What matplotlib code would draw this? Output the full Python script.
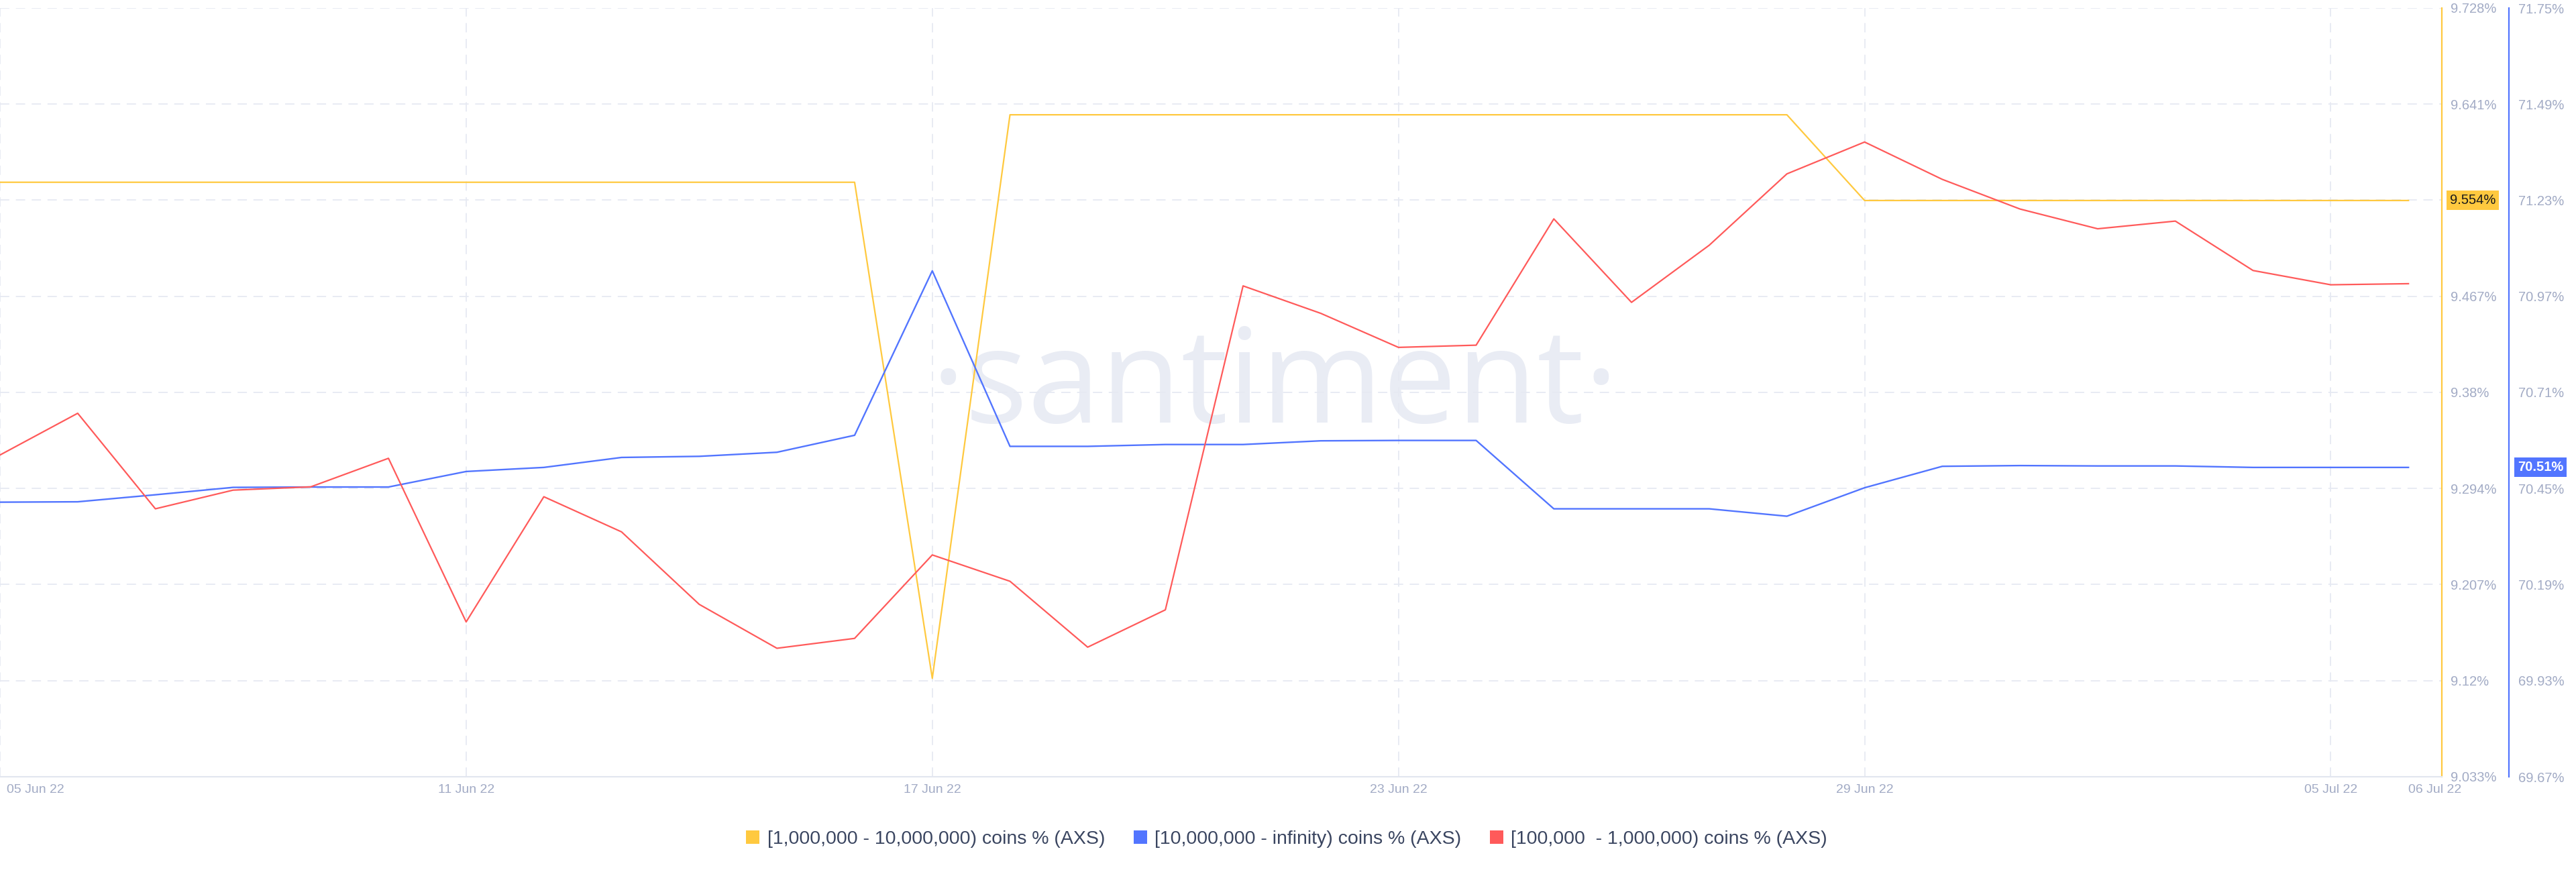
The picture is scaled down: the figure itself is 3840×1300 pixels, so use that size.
import matplotlib
matplotlib.use("Agg")
import matplotlib.pyplot as plt
import matplotlib.dates as mdates
from matplotlib.patches import Patch
from matplotlib.transforms import ScaledTranslation
import pandas as pd
import numpy as np

plt.rcParams['font.family'] = ['Liberation Sans', 'DejaVu Sans']
plt.rcParams['lines.scale_dashes'] = False

# ---------------- data ----------------
dates = pd.date_range('2022-06-05', '2022-07-06', freq='D')

yellow_vals = [9.5705] * 12 + [9.122] + [9.6315] * 11 + [9.554] * 8

blue_vals = [70.413, 70.414, 70.433, 70.453, 70.454, 70.454, 70.496, 70.507,
             70.534, 70.537, 70.548, 70.594, 71.039, 70.564, 70.564, 70.569,
             70.569, 70.579, 70.580, 70.580, 70.395, 70.395, 70.395, 70.375,
             70.452, 70.510, 70.512, 70.511, 70.511, 70.507, 70.507, 70.507]

red_vals = [17.393, 17.431, 17.344, 17.361, 17.364, 17.390, 17.241, 17.355,
            17.323, 17.257, 17.217, 17.226, 17.302, 17.278, 17.218, 17.252,
            17.547, 17.522, 17.491, 17.493, 17.608, 17.532, 17.584, 17.649,
            17.678, 17.644, 17.617, 17.599, 17.606, 17.561, 17.548, 17.549]

yellow_ticklabels = ['9.033%', '9.12%', '9.207%', '9.294%', '9.38%',
                     '9.467%', '9.554%', '9.641%', '9.728%']
blue_ticklabels = ['69.67%', '69.93%', '70.19%', '70.45%', '70.71%',
                   '70.97%', '71.23%', '71.49%', '71.75%']
date_ticks = ['2022-06-05', '2022-06-11', '2022-06-17', '2022-06-23',
              '2022-06-29', '2022-07-05']
series_labels = ['[1,000,000 - 10,000,000) coins % (AXS)',
                 '[10,000,000 - infinity) coins % (AXS)',
                 '[100,000  - 1,000,000) coins % (AXS)']
yellow_last = '9.554%'
blue_last = '70.51%'

# ---------------- style ----------------
C_YEL = '#FFC93F'
C_BLU = '#5275FF'
C_RED = '#FF5A5A'
C_GRID = '#E6E9F2'
C_TICK = '#A2ABC5'
C_TEXT = '#3A4560'

W, H = 3840, 1300
fig = plt.figure(figsize=(W / 100, H / 100), dpi=100)
ax_l, ax_r = 0, 3640
ax_t, ax_b = 12, 1158
ax = fig.add_axes([ax_l / W, 1 - ax_b / H, (ax_r - ax_l) / W, (ax_b - ax_t) / H])

ax2 = ax.twinx()
ax3 = ax.twinx()

# watermark
ax.text(0.522, 0.505, '·santiment·', transform=ax.transAxes, ha='center',
        va='center', fontsize=141, color='#E9ECF4', family='Open Sans',
        zorder=0)

ax.plot(dates, yellow_vals, color=C_YEL, lw=1.6, zorder=3)
ax2.plot(dates, blue_vals, color=C_BLU, lw=1.7, zorder=3)
ax3.plot(dates, red_vals, color=C_RED, lw=1.6, zorder=3)

# limits
ax.set_ylim(9.033, 9.728)
ax2.set_ylim(69.67, 71.75)
ax3.set_ylim(17.10, 17.80)
x0 = mdates.date2num(dates[0])
ax.set_xlim(x0, x0 + 31.43)

# y ticks
yt = np.linspace(9.033, 9.728, len(yellow_ticklabels))
ax.yaxis.tick_right()
ax.set_yticks(yt)
lbls = list(yellow_ticklabels)
lbls[6] = ''
ax.set_yticklabels(lbls)
ax.tick_params(axis='y', length=0, pad=9, labelsize=14.5, labelcolor=C_TICK)

bt = np.linspace(69.67, 71.75, len(blue_ticklabels))
ax2.set_yticks(bt)
ax2.set_yticklabels(blue_ticklabels)
ax2.tick_params(axis='y', length=0, pad=10, labelsize=14.5, labelcolor=C_TICK)
ax2.spines['right'].set_position(('axes', (3740 - ax_l) / (ax_r - ax_l)))

ax3.set_yticks([])
for s in ax3.spines.values():
    s.set_visible(False)

# x ticks
xt = [mdates.datestr2num(d) for d in date_ticks]
ax.set_xticks(xt)
ax.xaxis.set_major_formatter(mdates.DateFormatter('%d %b %y'))
ax.tick_params(axis='x', length=0, pad=8, labelsize=14, labelcolor=C_TICK)
first = ax.get_xticklabels()[0]
first.set_ha('left')
first.set_transform(first.get_transform() + ScaledTranslation(0.1, 0, fig.dpi_scale_trans))
ax.annotate('06 Jul 22', xy=((3630 - ax_l) / (ax_r - ax_l), 0), xycoords='axes fraction',
            xytext=(0, -8 * 100 / 72), textcoords='offset pixels',
            ha='center', va='top', fontsize=14, color=C_TICK, annotation_clip=False)

# grid
ax.grid(True, color=C_GRID, lw=1.3, linestyle=(0, (10, 7)))
ax.set_axisbelow(True)

# spines
for a in (ax, ax2):
    a.spines['top'].set_visible(False)
    a.spines['left'].set_visible(False)
ax.spines['bottom'].set_color('#E2E6EF')
ax.spines['bottom'].set_linewidth(1.5)
ax2.spines['bottom'].set_visible(False)
ax.spines['right'].set_color(C_YEL)
ax.spines['right'].set_linewidth(1.6)
ax2.spines['right'].set_color(C_BLU)
ax2.spines['right'].set_linewidth(1.6)

# highlighted last-value labels
ax.annotate(yellow_last, xy=(1, yellow_vals[-1]), xycoords=('axes fraction', 'data'),
            xytext=(12, 0), textcoords='offset pixels', ha='left', va='center',
            fontsize=14.5, color='#1a1a1a',
            bbox=dict(boxstyle='square,pad=0.25', fc=C_YEL, ec='none'),
            annotation_clip=False, zorder=5)
ax2.annotate(blue_last, xy=((3740 - ax_l) / (ax_r - ax_l), blue_vals[-1]),
             xycoords=('axes fraction', 'data'),
             xytext=(13, 0), textcoords='offset pixels', ha='left', va='center',
             fontsize=14.5, color='white', fontweight='bold',
             bbox=dict(boxstyle='square,pad=0.25', fc=C_BLU, ec='none'),
             annotation_clip=False, zorder=5)

# legend
handles = [Patch(facecolor=c, edgecolor='none') for c in (C_YEL, C_BLU, C_RED)]
fig.legend(handles, series_labels, loc='center', bbox_to_anchor=(0.4995, 0.0377),
           ncol=3, frameon=False, fontsize=20.5, labelcolor=C_TEXT,
           handlelength=0.7, handleheight=0.7, handletextpad=0.4,
           columnspacing=1.5)

fig.savefig('out.png', dpi=100)
